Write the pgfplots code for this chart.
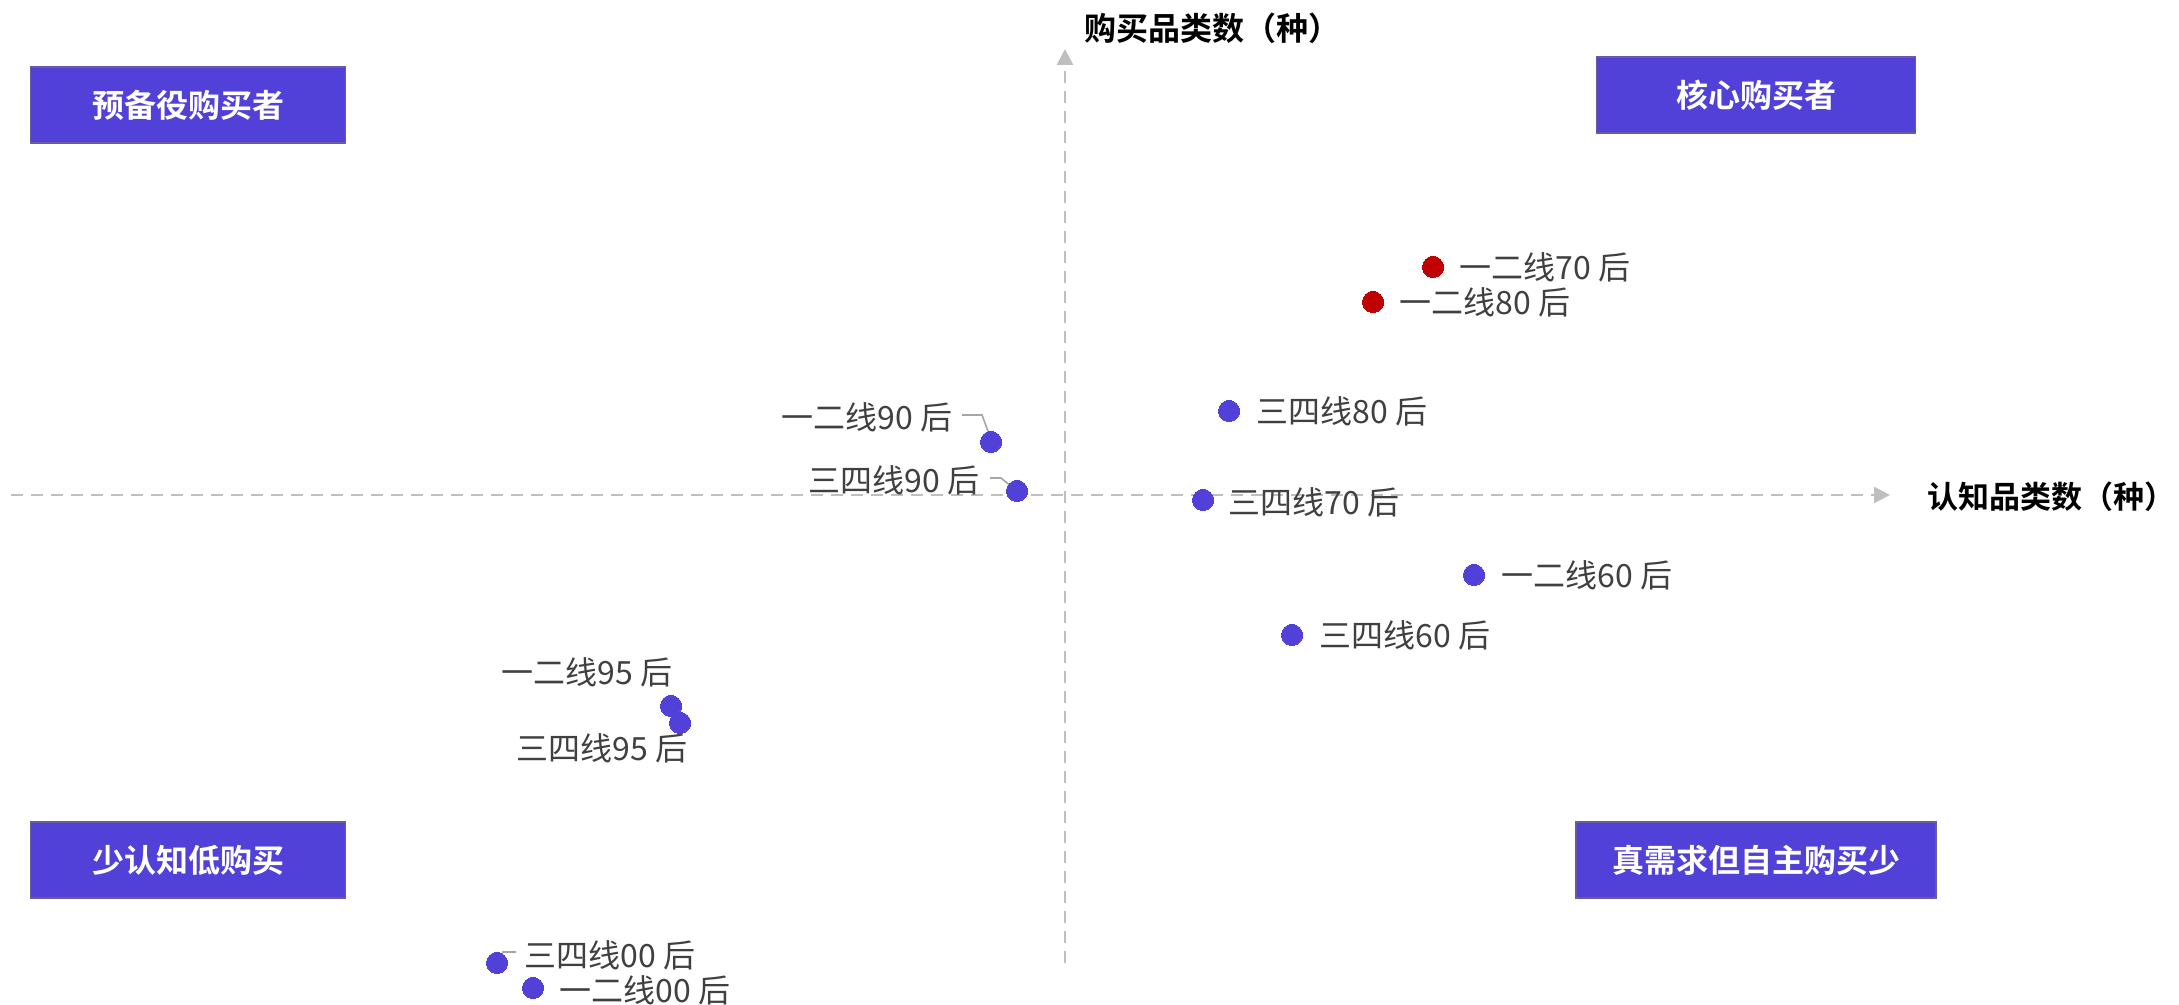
\documentclass[border=0pt]{standalone}
\usepackage{fontspec}
\setmainfont{Noto Sans CJK SC}[BoldFont={Noto Sans CJK SC Bold}]
\usepackage{pgfplots}
\usepackage{pgfplotstable}
\pgfplotsset{compat=1.18}
\usetikzlibrary{arrows.meta}
\definecolor{ptblue}{HTML}{5141D9}
\definecolor{ptred}{HTML}{C00000}
\definecolor{boxfill}{HTML}{5141D9}
\definecolor{boxdraw}{HTML}{6A5BA0}
\definecolor{axgray}{HTML}{BFBFBF}
\definecolor{lblgray}{HTML}{404040}
\definecolor{leader}{HTML}{A6A6A6}

\pgfplotstableread{
x y
-0.74 0.53
-0.48 0.04
1.64 0.84
1.38 -0.05
4.09 -0.80
2.27 -1.40
-3.94 -2.11
-3.85 -2.28
-5.68 -4.68
-5.32 -4.93
}\bluedata
\pgfplotstableread{
x y
3.68 2.28
3.08 1.93
}\reddata

\begin{document}
\begin{tikzpicture}
\path[use as bounding box] (0,0) rectangle (1089.5pt,502.5pt);
\begin{axis}[
  at={(0,0)}, anchor=south west,
  scale only axis, width=1089.5pt, height=502.5pt,
  xmin=-10.65, xmax=11.14, ymin=-5.10, ymax=4.95,
  hide axis, clip=false,
]
% axis lines
\draw[axgray, line width=1.3pt, dash pattern=on 6pt off 4pt, -{Triangle[length=8pt,width=8pt]}]
  (axis cs:-10.54,0) -- (axis cs:8.25,0);
\draw[axgray, line width=1.3pt, dash pattern=on 6pt off 4pt, -{Triangle[length=8pt,width=8pt]}]
  (axis cs:0,-4.68) -- (axis cs:0,4.46);
% axis titles
\node[anchor=west, inner sep=0, font=\bfseries\fontsize{16pt}{19pt}\selectfont] at (axis cs:0.19,4.67) {购买品类数（种）};
\node[anchor=west, inner sep=0, font=\bfseries\fontsize{15.5pt}{19pt}\selectfont] at (axis cs:8.62,-0.02) {认知品类数（种）};
% quadrant boxes
\tikzset{qbox/.style={fill=boxfill, draw=boxdraw, line width=0.8pt, text=white, inner sep=0,
  font=\bfseries\fontsize{16pt}{19pt}\selectfont, minimum height=38pt}}
\node[qbox, minimum width=157.5pt] at (axis cs:-8.77,3.90) {预备役购买者};
\node[qbox, minimum width=159.5pt] at (axis cs:6.91,4.00) {核心购买者};
\node[qbox, minimum width=157.5pt] at (axis cs:-8.77,-3.65) {少认知低购买};
\node[qbox, minimum width=180pt] at (axis cs:6.91,-3.65) {真需求但自主购买少};
% leader lines
\draw[leader, line width=0.8pt] (axis cs:-1.03,0.80) -- (axis cs:-0.83,0.80) -- (axis cs:-0.73,0.53);
\draw[leader, line width=0.8pt] (axis cs:-0.75,0.17) -- (axis cs:-0.64,0.17) -- (axis cs:-0.47,0.03);
\draw[leader, line width=0.8pt] (axis cs:-5.49,-4.57) -- (axis cs:-5.62,-4.57) -- (axis cs:-5.68,-4.68);
% points
\addplot[only marks, mark=*, mark size=5.3pt, color=ptblue, draw=none, mark options={fill=ptblue, draw=ptblue, line width=0pt}] table[x=x,y=y] {\bluedata};
\addplot[only marks, mark=*, mark size=5.3pt, color=ptred, draw=none, mark options={fill=ptred, draw=ptred, line width=0pt}] table[x=x,y=y] {\reddata};
% labels
\tikzset{lbl/.style={inner sep=0, text=lblgray, font=\fontsize{16pt}{19pt}\selectfont}}
\node[lbl, anchor=west] at (axis cs:3.94,2.28) {一二线70 后};
\node[lbl, anchor=west] at (axis cs:3.34,1.93) {一二线80 后};
\node[lbl, anchor=west] at (axis cs:1.91,0.84) {三四线80 后};
\node[lbl, anchor=west] at (axis cs:1.63,-0.07) {三四线70 后};
\node[lbl, anchor=west] at (axis cs:4.36,-0.80) {一二线60 后};
\node[lbl, anchor=west] at (axis cs:2.54,-1.40) {三四线60 后};
\node[lbl, anchor=east] at (axis cs:-1.12,0.78) {一二线90 后};
\node[lbl, anchor=east] at (axis cs:-0.85,0.15) {三四线90 后};
\node[lbl, anchor=east] at (axis cs:-3.92,-1.77) {一二线95 后};
\node[lbl, anchor=east] at (axis cs:-3.77,-2.53) {三四线95 后};
\node[lbl, anchor=west] at (axis cs:-5.41,-4.60) {三四线00 后};
\node[lbl, anchor=west] at (axis cs:-5.06,-4.95) {一二线00 后};
\end{axis}
\end{tikzpicture}
\end{document}
